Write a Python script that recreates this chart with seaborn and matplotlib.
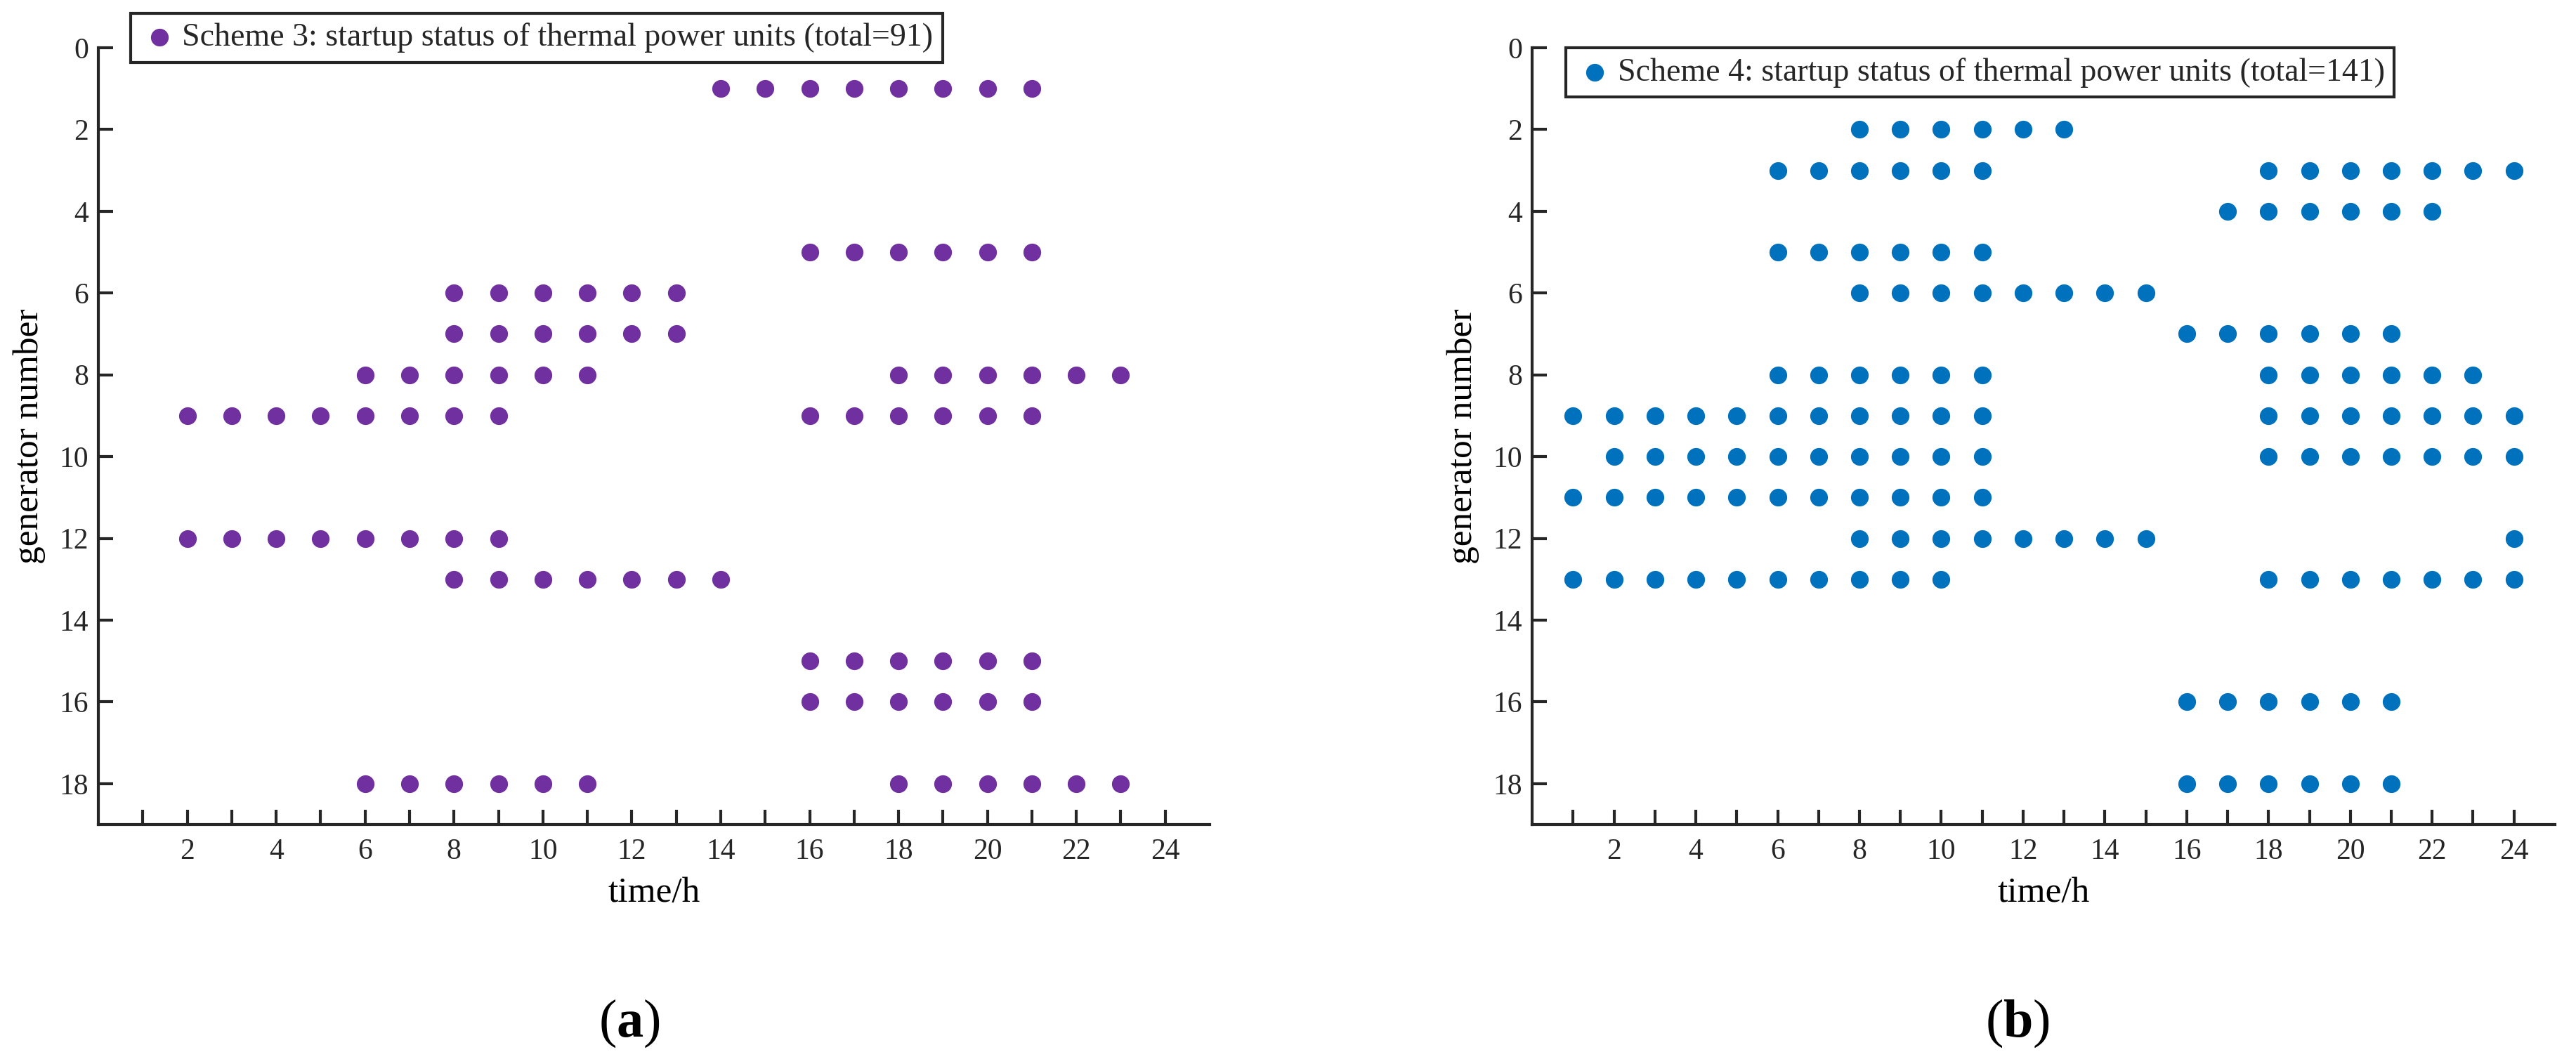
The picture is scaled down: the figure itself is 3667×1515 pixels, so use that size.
import pandas as pd
import matplotlib.pyplot as plt
import seaborn as sns
import warnings
warnings.filterwarnings("ignore")

# ── DATA: hours at which each unit is started ────────────────────────────────
# Scheme 3 (total=91)
s3_units = [1, 5, 6, 7, 8, 9, 12, 13, 15, 16, 18]
s3_hours = [
    [14, 15, 16, 17, 18, 19, 20, 21],
    [16, 17, 18, 19, 20, 21],
    [8, 9, 10, 11, 12, 13],
    [8, 9, 10, 11, 12, 13],
    [6, 7, 8, 9, 10, 11, 18, 19, 20, 21, 22, 23],
    [2, 3, 4, 5, 6, 7, 8, 9, 16, 17, 18, 19, 20, 21],
    [2, 3, 4, 5, 6, 7, 8, 9],
    [8, 9, 10, 11, 12, 13, 14],
    [16, 17, 18, 19, 20, 21],
    [16, 17, 18, 19, 20, 21],
    [6, 7, 8, 9, 10, 11, 18, 19, 20, 21, 22, 23],
]

# Scheme 4 (total=141)
s4_units = [2, 3, 4, 5, 6, 7, 8, 9, 10, 11, 12, 13, 16, 18]
s4_hours = [
    [8, 9, 10, 11, 12, 13],
    [6, 7, 8, 9, 10, 11, 18, 19, 20, 21, 22, 23, 24],
    [17, 18, 19, 20, 21, 22],
    [6, 7, 8, 9, 10, 11],
    [8, 9, 10, 11, 12, 13, 14, 15],
    [16, 17, 18, 19, 20, 21],
    [6, 7, 8, 9, 10, 11, 18, 19, 20, 21, 22, 23],
    [1, 2, 3, 4, 5, 6, 7, 8, 9, 10, 11, 18, 19, 20, 21, 22, 23, 24],
    [2, 3, 4, 5, 6, 7, 8, 9, 10, 11, 18, 19, 20, 21, 22, 23, 24],
    [1, 2, 3, 4, 5, 6, 7, 8, 9, 10, 11],
    [8, 9, 10, 11, 12, 13, 14, 15, 24],
    [1, 2, 3, 4, 5, 6, 7, 8, 9, 10, 18, 19, 20, 21, 22, 23, 24],
    [16, 17, 18, 19, 20, 21],
    [16, 17, 18, 19, 20, 21],
]

x_major = [2, 4, 6, 8, 10, 12, 14, 16, 18, 20, 22, 24]
x_minor = [1, 3, 5, 7, 9, 11, 13, 15, 17, 19, 21, 23]
y_ticks = [0, 2, 4, 6, 8, 10, 12, 14, 16, 18]


def to_frame(units, hours):
    rows = []
    for u, hs in zip(units, hours):
        for h in hs:
            rows.append({"hour": h, "unit": u})
    return pd.DataFrame(rows)


df3 = to_frame(s3_units, s3_hours)
df4 = to_frame(s4_units, s4_hours)

# ── STYLE ─────────────────────────────────────────────────────────────────────
sns.set_theme(style="white")
plt.rcParams["font.family"] = ["Liberation Serif", "DejaVu Serif"]
plt.rcParams["mathtext.fontset"] = "custom"
plt.rcParams["mathtext.rm"] = "Liberation Serif"
plt.rcParams["mathtext.bf"] = "Liberation Serif:bold"

DARK = "#262626"
fig = plt.figure(figsize=(36.67, 15.15), dpi=100)
ax_a = fig.add_axes([0.0382, 0.2251, 0.4314, 0.7300])
ax_b = fig.add_axes([0.5948, 0.2251, 0.3970, 0.7300])

panels = [
    (ax_a, df3, "#7030A0", "Scheme 3: startup status of thermal power units (total=91)",
     (0.0507, 0.9875)),
    (ax_b, df4, "#0072BD", "Scheme 4: startup status of thermal power units (total=141)",
     (0.6079, 0.9551)),
]

for ax, df, col, lab, anchor in panels:
    sns.scatterplot(data=df, x="hour", y="unit", ax=ax, color=col, s=330,
                    linewidth=0, label=lab)
    ax.set_xlim(0, 25)
    ax.set_ylim(19, 0)
    ax.set_xticks(x_major)
    ax.set_xticks(x_minor, minor=True)
    ax.set_yticks(y_ticks)
    ax.tick_params(axis="both", which="both", direction="in", length=15,
                   width=3, color=DARK, labelsize=30, labelcolor=DARK)
    ax.tick_params(axis="x", which="both", pad=14, top=False, bottom=True)
    ax.tick_params(axis="y", left=True, right=False, pad=10)
    for side in ["top", "right"]:
        ax.spines[side].set_visible(False)
    for side in ["left", "bottom"]:
        ax.spines[side].set_linewidth(3)
        ax.spines[side].set_color(DARK)
    ax.set_xlabel("time/h", fontsize=37, color="black", labelpad=12)
    ax.set_ylabel("generator number", fontsize=37, color="black", labelpad=14)
    leg = ax.legend(loc="upper left", bbox_to_anchor=anchor,
                    bbox_transform=fig.transFigure, borderaxespad=0,
                    fancybox=False, framealpha=1, edgecolor=DARK,
                    fontsize=33, handletextpad=0.1, borderpad=0.3,
                    handlelength=1.2)
    leg.get_frame().set_linewidth(3)

fig.text(896 / 3667, 1 - 1457 / 1515, r"($\mathbf{a}$)", fontsize=55,
         ha="center", va="center", color="black")
fig.text(2872 / 3667, 1 - 1457 / 1515, r"($\mathbf{b}$)", fontsize=55,
         ha="center", va="center", color="black")

plt.savefig("out.png", dpi=100)
plt.close()
